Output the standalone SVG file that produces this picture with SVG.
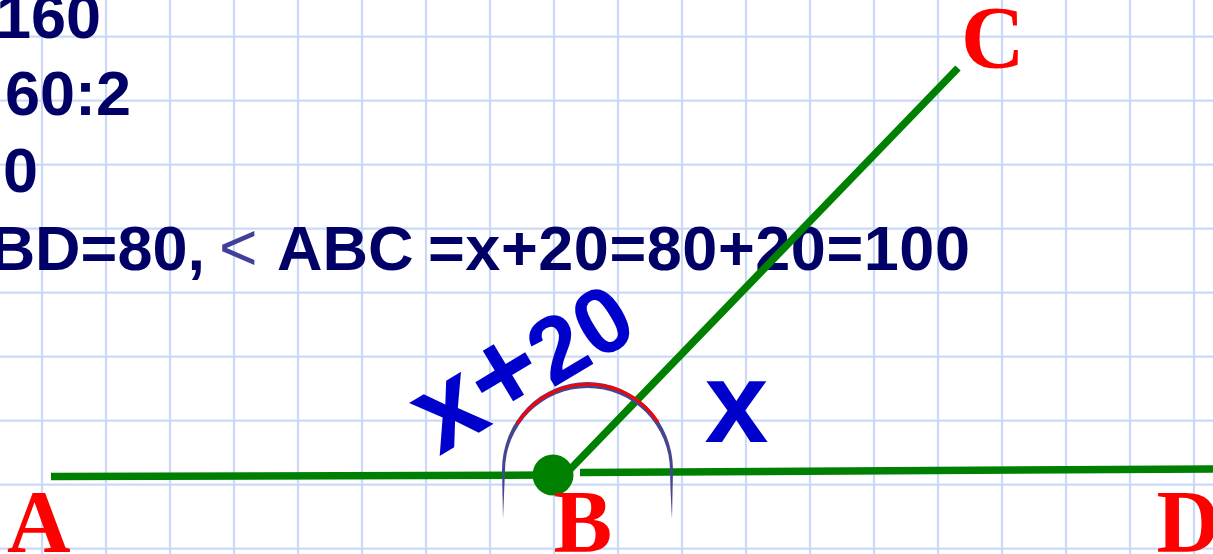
<svg xmlns="http://www.w3.org/2000/svg" width="1213" height="554" viewBox="0 0 1213 554">
<defs>
<style>
.grid line{stroke:#cbd9f7;stroke-width:2.2}
.navy{font-family:"Liberation Sans",Arial,sans-serif;font-weight:bold;fill:#000066;font-size:63px}
.lbl{font-family:"Liberation Serif","Times New Roman",serif;font-weight:bold;fill:#ff0000;font-size:88px}
.blue{font-family:"Liberation Sans",Arial,sans-serif;font-weight:bold;fill:#0000cc}
.ray{stroke:#008000;stroke-width:7.5;fill:none}
</style>
</defs>
<rect x="0" y="0" width="1213" height="554" fill="#ffffff"/>
<g id="grid" class="grid">
<line x1="42" y1="0" x2="42" y2="554"/><line x1="106" y1="0" x2="106" y2="554"/><line x1="170" y1="0" x2="170" y2="554"/><line x1="234" y1="0" x2="234" y2="554"/><line x1="298" y1="0" x2="298" y2="554"/><line x1="362" y1="0" x2="362" y2="554"/><line x1="426" y1="0" x2="426" y2="554"/><line x1="490" y1="0" x2="490" y2="554"/><line x1="554" y1="0" x2="554" y2="554"/><line x1="618" y1="0" x2="618" y2="554"/><line x1="682" y1="0" x2="682" y2="554"/><line x1="746" y1="0" x2="746" y2="554"/><line x1="810" y1="0" x2="810" y2="554"/><line x1="874" y1="0" x2="874" y2="554"/><line x1="938" y1="0" x2="938" y2="554"/><line x1="1002" y1="0" x2="1002" y2="554"/><line x1="1066" y1="0" x2="1066" y2="554"/><line x1="1130" y1="0" x2="1130" y2="554"/><line x1="1194" y1="0" x2="1194" y2="554"/>
<line x1="0" y1="36.7" x2="1213" y2="36.7"/><line x1="0" y1="100.7" x2="1213" y2="100.7"/><line x1="0" y1="164.7" x2="1213" y2="164.7"/><line x1="0" y1="228.7" x2="1213" y2="228.7"/><line x1="0" y1="292.7" x2="1213" y2="292.7"/><line x1="0" y1="356.7" x2="1213" y2="356.7"/><line x1="0" y1="420.7" x2="1213" y2="420.7"/><line x1="0" y1="484.7" x2="1213" y2="484.7"/><line x1="0" y1="548.7" x2="1213" y2="548.7"/>
</g>
<g id="equations">
<text class="navy" x="101" y="38" text-anchor="end">160</text>
<text class="navy" x="131" y="115" text-anchor="end">60:2</text>
<text class="navy" x="38" y="192" text-anchor="end">0</text>
<text class="navy" x="205" y="270" text-anchor="end">BD=80,</text>
<text x="219" y="270" font-family="Liberation Sans,Arial,sans-serif" font-size="66" fill="#40409a">&lt;</text>
<text class="navy" x="277" y="270">ABC</text>
<text class="navy" x="428" y="270" textLength="542">=x+20=80+20=100</text>
</g>
<g id="connectors">
<line class="ray" x1="51" y1="476.5" x2="553" y2="475"/>
<line class="ray" x1="580" y1="472.5" x2="1213" y2="469"/>
<line class="ray" x1="570" y1="469.5" x2="958" y2="68" stroke-width="7"/>
</g>
<g id="arc">
<path d="M 502,470 A 85.5,88 0 0 1 673,470 Q 672.5,495 672,519 Q 670.5,495 670,471 A 82.5,83 0 0 0 505,471 Q 504,495 503,519 Q 502.5,495 502,470 Z" fill="#464690"/>
<path d="M 517,424 A 84,85 0 0 1 658,422" fill="none" stroke="#ff0000" stroke-width="2.8"/>
</g>
<g id="B">
<circle cx="553" cy="475" r="20.5" fill="#008000"/>
<text class="lbl" x="553.5" y="551">B</text>
</g>
<g id="A"><text class="lbl" x="7" y="551">A</text></g>
<g id="C"><text class="lbl" x="961" y="67">C</text></g>
<g id="D"><text class="lbl" x="1156.5" y="551">D</text></g>
<g id="label-x20">
<text class="blue" transform="translate(439,456.5) rotate(-31)"><tspan font-size="116">x+</tspan><tspan font-size="93">20</tspan></text>
</g>
<g id="label-x">
<text class="blue" x="704.5" y="442" font-size="115">x</text>
</g>
</svg>
